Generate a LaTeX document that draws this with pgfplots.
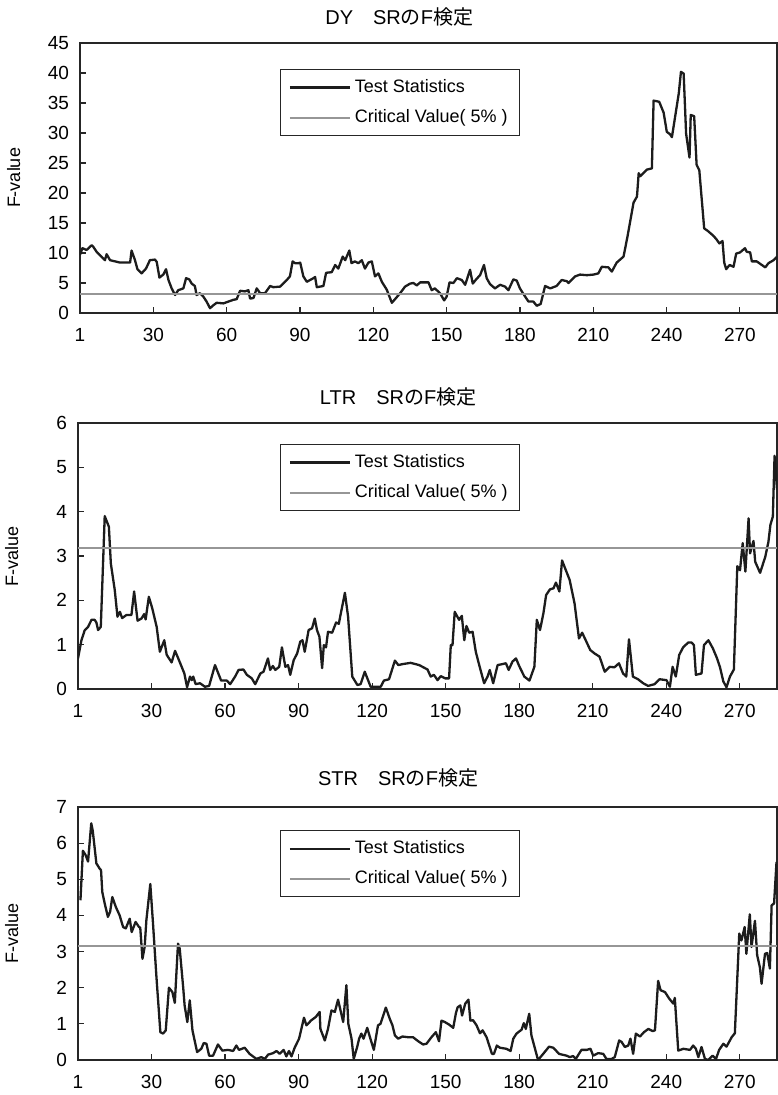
\documentclass[border=0pt]{standalone}
\usepackage{fontspec}
\setmainfont{Liberation Sans}
\newfontfamily\cjk{Noto Sans CJK JP}
\usepackage{pgfplots}
\pgfplotsset{compat=1.18}
\definecolor{tsline}{RGB}{28,28,28}
\definecolor{cvline}{RGB}{150,150,150}

\pgfplotsset{
  srpanel/.style={
    anchor=north west,
    scale only axis,
    xmin=0, xmax=285.2,
    ymin=0,
    xtick={0,30,...,270},
    xticklabels={1,30,60,90,120,150,180,210,240,270},
    tick align=inside,
    xtick pos=bottom, ytick pos=left,
    major tick length=3pt,
    axis line style={line width=0.7pt, black!85},
    tick style={line width=0.6pt, black!85},
    tick label style={font=\fontsize{9.5}{11}\selectfont, /pgf/number format/assume math mode=true},
    xticklabel style={yshift=-4pt},
    yticklabel style={xshift=-2pt},
    ylabel={F-value},
    ylabel style={font=\fontsize{9}{10}\selectfont, at={(axis description cs:-0.095,0.5)}, anchor=center},
    title style={font=\fontsize{10}{12}\selectfont, at={(axis description cs:0.458,1)}, anchor=center, yshift=7pt},
    legend style={font=\fontsize{9}{11}\selectfont, anchor=north west, draw=black!85, line width=0.6pt,
      row sep=3pt, inner xsep=4pt, inner ysep=3pt, cells={anchor=west}},
    legend image code/.code={\draw[##1] (0pt,0pt) -- (30pt,0pt);},
  },
  tsplot/.style={tsline, line width=1.15pt, line join=round},
  cvplot/.style={cvline, line width=1pt},
}

\begin{document}
\begin{tikzpicture}
\path[use as bounding box] (0pt,0pt) rectangle (388.5pt,-547.5pt);

% DY
\begin{axis}[srpanel, at={(40pt,-21.5pt)}, width=348.5pt, height=135pt,
  ymax=45, ytick={0,5,...,45},
  title={DY{\cjk 　}SR{\cjk の}F{\cjk 検定}},
  legend style={at={(axis description cs:0.287,0.904)}}]
\addplot[tsplot] coordinates {
(0,9.7)(1,10.8)(2.7,10.5)(4.8,11.3)(5.5,11.0)(6.8,10.2)(10.2,8.8)(10.9,9.8)(12.3,8.8)(16.4,8.4)(20.5,8.4)(21.1,10.4)(22.5,8.8)(23.5,7.3)(25.2,6.6)(27,7.4)(28.6,8.8)(30.7,8.9)(31.4,8.5)(32.5,5.9)(34.1,6.4)(35.2,7.3)(36.2,5.5)(37.5,4.1)(38.9,3.0)(40.2,3.8)(42.3,4.1)(43.4,5.8)(44.7,5.6)(45.7,4.9)(47,4.5)(47.7,3.0)(49.1,3.3)(50.5,2.7)(51.8,1.9)(53.2,0.8)(54.6,1.3)(55.9,1.7)(58.7,1.6)(60,1.8)(62.8,2.2)(64.1,2.3)(65.5,3.7)(67.5,3.6)(68.9,3.8)(69.6,2.4)(71,2.5)(72.3,4.1)(73.7,3.3)(75.7,3.3)(77.8,4.5)(79.1,4.3)(81.9,4.4)(84.6,5.5)(85.9,6.1)(87,8.6)(88,8.3)(89.4,8.3)(90.1,8.4)(91.4,6.1)(92.8,5.2)(95.5,5.8)(96.2,6.0)(96.9,4.3)(99.6,4.5)(100.7,6.7)(103,6.8)(104.4,8.0)(105.7,7.4)(107.5,9.4)(108.5,8.8)(110.2,10.4)(111.1,8.3)(112.5,8.6)(113.9,8.3)(115.3,8.8)(116.6,7.4)(118,8.4)(119.4,8.6)(120.7,6.1)(122.1,6.6)(123.5,5.2)(125.5,3.9)(127.6,1.7)(128.9,2.3)(131,3.3)(133,4.4)(135.1,4.9)(136.4,5.0)(137.8,4.6)(139.2,5.1)(142.6,5.1)(143.9,3.8)(145.2,4.1)(147.3,3.3)(149,2.1)(150,2.7)(151.2,5.1)(152.8,5.0)(154.2,5.8)(156.2,5.5)(157.6,4.7)(159.6,7.2)(160.7,4.9)(162.3,5.7)(163.7,6.3)(165.3,8.0)(166.4,5.8)(167.8,4.8)(169.8,4.1)(171.9,4.7)(173.9,4.4)(175.3,3.8)(177.3,5.6)(178.7,5.4)(180,4.1)(181.4,3.2)(183.5,1.9)(185.5,1.9)(186.9,1.2)(188.5,1.5)(190.3,4.5)(192.4,4.1)(195,4.5)(197.1,5.5)(199.2,5.3)(199.9,5.0)(202.6,6.1)(204.6,6.4)(207.4,6.3)(210.1,6.4)(212.1,6.6)(213.5,7.7)(216.2,7.6)(217.6,6.9)(219.6,8.4)(222.4,9.4)(224,12.7)(226.5,18.4)(227.9,19.4)(228.6,23.3)(229.3,22.8)(232,23.9)(234,24.1)(234.7,35.4)(237,35.2)(238.8,33.4)(240.1,30.2)(241.4,29.8)(242.2,29.3)(245,36.6)(245.9,40.2)(247,39.9)(248,29.9)(249.4,25.9)(249.9,33)(251.3,32.8)(252.3,24.7)(253.4,23.8)(255.4,14.1)(256.8,13.7)(258.8,13)(260.2,12.4)(261.6,11.6)(262.9,12.0)(263.6,8.4)(264.4,7.3)(265.8,8.0)(267.4,7.7)(268.5,9.9)(270.1,10.1)(272.1,10.8)(272.8,10.2)(274.2,10.1)(274.9,8.6)(276.9,8.6)(278.3,8.2)(280.4,7.6)(281.7,8.3)(283.8,8.8)(285.2,9.4)
};
\addlegendentry{Test Statistics}
\addplot[cvplot] coordinates {(0,3.1)(285.2,3.1)};
\addlegendentry{Critical Value( 5\% )}
\end{axis}

% LTR
\begin{axis}[srpanel, at={(39pt,-211.5pt)}, width=349.5pt, height=133pt,
  ymax=6, ytick={0,1,...,6},
  title={LTR{\cjk 　}SR{\cjk の}F{\cjk 検定}},
  legend style={at={(axis description cs:0.289,0.921)}}]
\addplot[tsplot] coordinates {
(0,0.69)(1.4,1.1)(2.7,1.32)(4.1,1.4)(5.5,1.56)(6.8,1.56)(7.5,1.5)(8.2,1.33)(9.3,1.4)(10.9,3.9)(12.6,3.66)(13.4,2.83)(15,2.23)(16.1,1.63)(17.1,1.74)(18,1.6)(19.8,1.67)(21.8,1.67)(22.9,2.2)(24.3,1.54)(25.9,1.59)(27,1.69)(27.6,1.57)(28.9,2.08)(30.3,1.82)(32.1,1.4)(33.4,0.84)(35.2,1.1)(36.2,0.77)(38.2,0.6)(39.6,0.86)(40.9,0.69)(42.3,0.5)(43.4,0.35)(44.5,0.04)(45.7,0.28)(46.4,0.2)(47,0.28)(48,0.11)(49.8,0.13)(51.8,0.05)(53.5,0.07)(55.9,0.54)(58.4,0.19)(60.7,0.19)(62.1,0.11)(64.1,0.28)(65.5,0.43)(67.5,0.44)(68.9,0.32)(70.9,0.24)(72.3,0.11)(74.4,0.35)(75.7,0.39)(77.5,0.69)(78.4,0.43)(79.5,0.52)(80.5,0.43)(82.1,0.5)(83.2,0.94)(84.6,0.5)(85.7,0.54)(86.6,0.32)(88,0.65)(89.4,0.8)(90.7,1.07)(91.6,1.1)(92.5,0.84)(94.1,1.33)(95.5,1.37)(96.6,1.59)(97.5,1.33)(98.5,1.18)(99.6,0.47)(100.3,0.99)(101.2,0.94)(102,1.29)(103.7,1.27)(105.3,1.5)(106.4,1.47)(107.5,1.78)(108.9,2.17)(110.2,1.63)(111.9,0.28)(114,0.09)(115.3,0.11)(117,0.39)(119.4,0.05)(123.5,0.05)(124.8,0.19)(126.9,0.22)(129.3,0.64)(130.7,0.54)(132.3,0.56)(135.7,0.59)(139.2,0.54)(142.6,0.44)(143.9,0.28)(145.2,0.32)(146.7,0.2)(148,0.29)(149.8,0.24)(151.4,0.24)(152.1,0.99)(152.8,0.99)(153.7,1.74)(155.5,1.56)(156.6,1.65)(157.6,1.1)(158.5,1.42)(159.6,1.27)(161,1.29)(162.3,0.84)(163.7,0.54)(165.7,0.13)(167.1,0.28)(168,0.43)(169.4,0.13)(171.2,0.54)(173,0.56)(174.6,0.58)(175.7,0.43)(177.3,0.62)(178.7,0.69)(180,0.52)(182.1,0.28)(184.2,0.19)(186.2,0.5)(187.2,1.56)(188.5,1.33)(189.9,1.71)(191,2.12)(192.6,2.25)(194,2.27)(195,2.4)(196.4,2.2)(197.5,2.9)(198.9,2.7)(200.6,2.46)(202.6,1.93)(204.4,1.14)(205.7,1.27)(207.4,1.07)(209,0.88)(210.8,0.8)(212.8,0.73)(214.9,0.39)(216.9,0.5)(218.9,0.49)(220.7,0.58)(222.4,0.35)(223.7,0.28)(224.8,1.12)(226.4,0.28)(228.5,0.22)(230.6,0.13)(232.6,0.07)(235.3,0.11)(237.3,0.22)(240.1,0.2)(241.5,0.05)(242.6,0.5)(243.9,0.28)(245.3,0.77)(246.9,0.94)(249,1.05)(250.3,1.05)(251.3,0.99)(252.1,0.32)(254.4,0.35)(255.4,0.99)(257.2,1.1)(259,0.92)(260.6,0.71)(261.9,0.5)(263.3,0.17)(264.6,0.04)(266,0.28)(267.6,0.44)(269,2.77)(270.1,2.68)(271.2,3.29)(272.3,2.65)(273.6,3.85)(274.2,3.06)(275.6,3.34)(276.3,2.87)(278.3,2.62)(280.4,2.98)(281.7,3.32)(282.5,3.7)(283.5,3.89)(284.2,5.26)(285.2,4.5)
};
\addlegendentry{Test Statistics}
\addplot[cvplot] coordinates {(0,3.18)(285.2,3.18)};
\addlegendentry{Critical Value( 5\% )}
\end{axis}

% STR
\begin{axis}[srpanel, at={(39pt,-403.5pt)}, width=349.5pt, height=126.5pt,
  ymax=7, ytick={0,1,...,7},
  title={STR{\cjk 　}SR{\cjk の}F{\cjk 検定}},
  title style={yshift=1.5pt},
  legend style={at={(axis description cs:0.289,0.909)}}]
\addplot[tsplot] coordinates {
(1,4.42)(2,5.79)(3.1,5.67)(4.1,5.49)(5.4,6.55)(6,6.35)(7.5,5.44)(8.8,5.3)(9.4,5.25)(9.9,4.65)(10.9,4.33)(12.2,3.96)(13.1,4.1)(14,4.51)(15.4,4.24)(17,4.0)(18.4,3.68)(19.5,3.64)(21.1,3.91)(21.9,3.54)(23.5,3.82)(24.9,3.68)(25.4,3.66)(26.3,2.8)(27.2,3.13)(27.9,3.87)(29.5,4.87)(30.6,3.78)(32,2.3)(33.6,0.77)(34.7,0.73)(35.8,0.82)(37.1,2.0)(38.5,1.88)(39.5,1.58)(40.8,3.22)(41.5,3.08)(42.9,2.02)(43.5,1.51)(44.6,1.05)(45.6,1.65)(46.7,0.82)(48.6,0.22)(50.3,0.31)(51.3,0.47)(52.4,0.45)(53.5,0.12)(55.1,0.12)(57.1,0.43)(58.9,0.26)(61.2,0.28)(63.3,0.25)(64.6,0.4)(65.7,0.28)(68,0.34)(70,0.17)(72.8,0.03)(74.8,0.08)(76.2,0.03)(77.6,0.15)(79.6,0.19)(81,0.25)(82.3,0.17)(83.9,0.28)(85,0.1)(86.1,0.25)(87.1,0.1)(88.4,0.34)(90.2,0.59)(92.2,1.17)(93.2,0.96)(95.2,1.1)(97,1.19)(98.6,1.33)(98.9,0.86)(100.7,0.54)(102,0.86)(103.4,1.37)(104.8,1.33)(106.1,1.67)(108.2,1.05)(109.5,2.07)(110.3,1.0)(111.6,0.59)(112.5,0.03)(113.9,0.36)(114.7,0.59)(115.6,0.73)(116.5,0.59)(118,0.89)(119.3,0.59)(120.7,0.28)(122.4,0.96)(123.4,1.0)(125.6,1.45)(127.2,1.14)(128.3,0.96)(129.3,0.68)(130.6,0.59)(132.4,0.65)(134.7,0.63)(136.7,0.63)(138.8,0.52)(140.8,0.43)(142.2,0.45)(144.2,0.63)(146,0.77)(147.3,0.52)(148.3,1.09)(149.7,1.05)(151.4,0.98)(153.1,0.89)(154.2,1.3)(154.9,1.46)(156,1.51)(156.7,1.23)(158,1.56)(159.3,1.67)(160.1,1.09)(161.2,1.1)(162.6,0.96)(164,0.74)(165.1,0.82)(166.7,0.63)(168.9,0.17)(169.7,0.17)(170.9,0.4)(172.1,0.34)(174.8,0.31)(176.5,0.25)(177.6,0.59)(178.9,0.73)(181,0.84)(181.9,1.02)(182.7,0.86)(184.1,1.28)(185,0.68)(187.7,0.0)(189.8,0.17)(192.2,0.37)(193.9,0.34)(196.3,0.17)(199.3,0.12)(200.7,0.08)(202,0.11)(203.1,0.03)(205.4,0.28)(207.5,0.28)(209.1,0.31)(210.2,0.12)(212.2,0.19)(214.3,0.17)(215.6,0.03)(217.7,0.03)(219,0.08)(220.8,0.54)(221.8,0.5)(223.1,0.36)(224.5,0.4)(225.4,0.59)(226.5,0.17)(227.6,0.73)(229.3,0.65)(230.9,0.77)(232.7,0.86)(234.5,0.8)(235.4,0.82)(236.7,2.19)(237.7,1.93)(239.5,1.88)(241.2,1.7)(242.9,1.56)(243.5,1.72)(244.9,0.26)(247,0.31)(249.7,0.28)(251,0.4)(252.1,0.31)(253.1,0.08)(254.4,0.36)(255.8,0.03)(257.1,0.0)(258.9,0.12)(260.3,0.03)(261.6,0.28)(263.3,0.45)(264.6,0.37)(266.7,0.63)(268,0.74)(269.8,3.5)(270.7,3.31)(272,3.68)(272.7,2.94)(274.1,4.03)(274.8,3.13)(276.2,3.85)(277.1,2.9)(278.2,2.57)(278.9,2.11)(280.3,2.94)(281.2,2.96)(282.3,2.53)(283,4.28)(284,4.33)(285,5.48)
};
\addlegendentry{Test Statistics}
\addplot[cvplot] coordinates {(0,3.16)(285.2,3.16)};
\addlegendentry{Critical Value( 5\% )}
\end{axis}
\end{tikzpicture}
\end{document}
